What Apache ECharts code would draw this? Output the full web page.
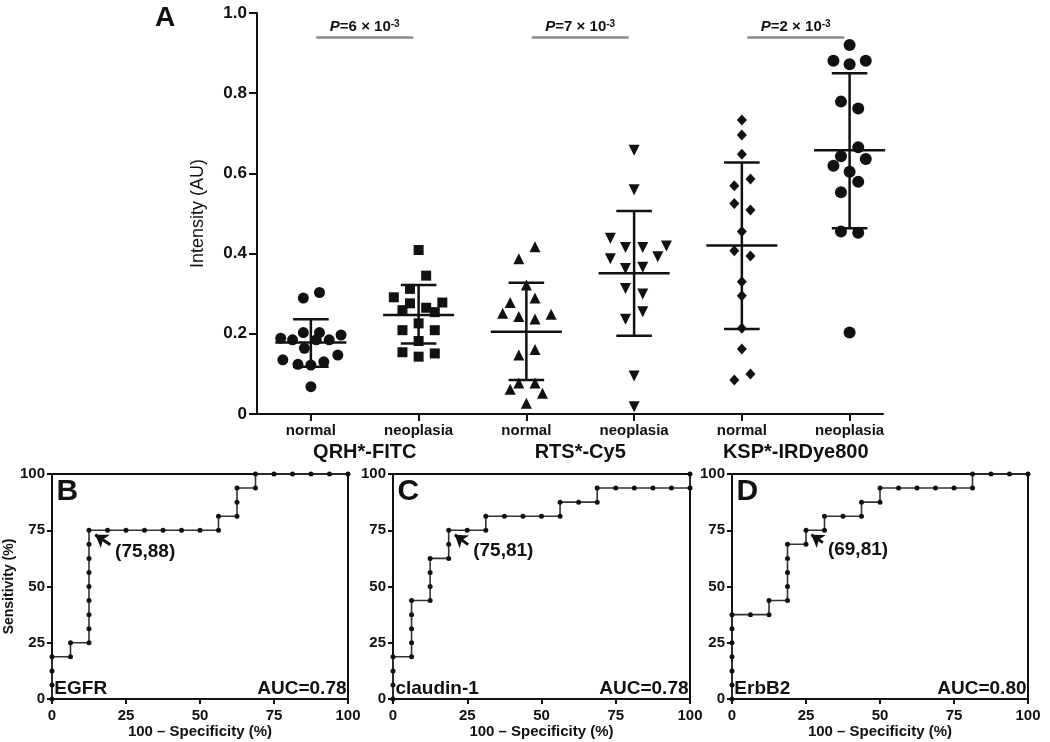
<!DOCTYPE html>
<html><head><meta charset="utf-8">
<script src="https://cdn.jsdelivr.net/npm/echarts@6/dist/echarts.min.js"></script>
<style>html,body{margin:0;padding:0;background:#fff}#c{width:1050px;height:742px}</style>
</head><body><div id="c"></div>
<script>
// ---------- DATA ----------
const conditionLabels = ['normal','neoplasia','normal','neoplasia','normal','neoplasia'];
const groupNames = ['QRH*-FITC','RTS*-Cy5','KSP*-IRDye800'];
const pExponentBase = ['6','7','2'];  // P = n × 10^-3

const qrhNormal      = [0.289,0.303,0.189,0.185,0.203,0.203,0.185,0.185,0.197,0.164,0.135,0.124,0.122,0.130,0.147,0.068];
const qrhNormalJit   = [-0.07,0.08,-0.28,-0.17,-0.07,0.08,0.05,0.17,0.28,-0.06,-0.26,-0.12,0,0.12,0.25,0];
const qrhNeo         = [0.409,0.345,0.312,0.291,0.278,0.276,0.259,0.265,0.254,0.226,0.209,0.209,0.182,0.154,0.143,0.151];
const qrhNeoJit      = [0,0.07,-0.08,-0.23,0.22,-0.08,-0.15,0.07,0.15,0,-0.15,0.15,0,-0.15,0,0.15];
const rtsNormal      = [0.417,0.387,0.322,0.278,0.289,0.251,0.243,0.237,0.249,0.147,0.161,0.077,0.077,0.062,0.052,0.027];
const rtsNormalJit   = [0.08,-0.07,0,-0.15,0.08,-0.22,-0.07,0.08,0.23,-0.07,0.08,-0.07,0.08,-0.15,0.15,0];
const rtsNeo         = [0.658,0.559,0.438,0.415,0.415,0.419,0.387,0.392,0.363,0.366,0.313,0.299,0.255,0.236,0.095,0.018];
const rtsNeoJit      = [0,0,-0.22,-0.08,0.08,0.3,-0.22,0.22,-0.08,0.08,-0.08,0.08,0.08,-0.08,0,0];
const kspNormal      = [0.733,0.696,0.648,0.586,0.569,0.525,0.509,0.455,0.407,0.394,0.330,0.295,0.214,0.162,0.085,0.100];
const kspNormalJit   = [0,0,0,0.08,-0.07,-0.07,0.08,0,-0.07,0.08,0,0,0,0,-0.07,0.08];
const kspNeo         = [0.920,0.881,0.872,0.881,0.779,0.762,0.665,0.643,0.636,0.619,0.604,0.579,0.553,0.455,0.452,0.203];
const kspNeoJit      = [0,-0.15,0,0.15,-0.08,0.08,0.08,-0.08,0.15,-0.15,0,0.08,-0.08,-0.08,0.08,0];

const groupMeans = [0.178,0.247,0.205,0.351,0.420,0.658];
const groupSdHigh = [0.236,0.322,0.327,0.506,0.627,0.850];
const groupSdLow  = [0.118,0.176,0.085,0.195,0.212,0.463];

const rocEGFR = [[0,0],[0,6.25],[0,12.5],[0,18.75],[6.25,18.75],[6.25,25],[12.5,25],[12.5,31.25],[12.5,37.5],[12.5,43.75],[12.5,50],[12.5,56.25],[12.5,62.5],[12.5,68.75],[12.5,75],[18.75,75],[25,75],[31.25,75],[37.5,75],[43.75,75],[50,75],[56.25,75],[56.25,81.25],[62.5,81.25],[62.5,87.5],[62.5,93.75],[68.75,93.75],[68.75,100],[75,100],[81.25,100],[87.5,100],[93.75,100],[100,100]];
const rocClaudin = [[0,0],[0,6.25],[0,12.5],[0,18.75],[6.25,18.75],[6.25,25],[6.25,31.25],[6.25,37.5],[6.25,43.75],[12.5,43.75],[12.5,50],[12.5,56.25],[12.5,62.5],[18.75,62.5],[18.75,68.75],[18.75,75],[25,75],[31.25,75],[31.25,81.25],[37.5,81.25],[43.75,81.25],[50,81.25],[56.25,81.25],[56.25,87.5],[62.5,87.5],[68.75,87.5],[68.75,93.75],[75,93.75],[81.25,93.75],[87.5,93.75],[93.75,93.75],[100,93.75],[100,100]];
const rocErbB2 = [[0,0],[0,6.25],[0,12.5],[0,18.75],[0,25],[0,31.25],[0,37.5],[6.25,37.5],[12.5,37.5],[12.5,43.75],[18.75,43.75],[18.75,50],[18.75,56.25],[18.75,62.5],[18.75,68.75],[25,68.75],[25,75],[31.25,75],[31.25,81.25],[37.5,81.25],[43.75,81.25],[43.75,87.5],[50,87.5],[50,93.75],[56.25,93.75],[62.5,93.75],[68.75,93.75],[75,93.75],[81.25,93.75],[81.25,100],[87.5,100],[93.75,100],[100,100]];
const rocNames = ['EGFR','claudin-1','ErbB2'];
const rocAUC = ['0.78','0.78','0.80'];
const rocCutLabels = ['(75,88)','(75,81)','(69,81)'];
const rocLetters = ['B','C','D'];

// ---------- BUILD ----------
const FF = "'Liberation Sans', Arial, Helvetica, sans-serif";
const INK = '#111';
const groupVals = [qrhNormal,qrhNeo,rtsNormal,rtsNeo,kspNormal,kspNeo];
const groupJit = [qrhNormalJit,qrhNeoJit,rtsNormalJit,rtsNeoJit,kspNormalJit,kspNeoJit];
const symbols = ['circle','rect','triangle','triangle','diamond','circle'];
const symRot = [0,0,0,180,0,0];
const symSize = [11,10,11,11,[10,11],12];

const series = [];
groupVals.forEach((vals,i)=>{
  series.push({
    type:'scatter', xAxisIndex:0, yAxisIndex:0,
    symbol:symbols[i], symbolRotate:symRot[i], symbolSize:symSize[i],
    itemStyle:{color:INK, opacity:1}, silent:true, z:2,
    data: vals.map((v,k)=>[i+1+groupJit[i][k], v])
  });
});
// mean ± SD bars
series.push({
  type:'custom', xAxisIndex:0, yAxisIndex:0, z:5, silent:true,
  data: groupMeans.map((m,i)=>[i+1,m,groupSdHigh[i],groupSdLow[i]]),
  renderItem(params, api){
    const x=api.value(0), m=api.value(1), hi=api.value(2), lo=api.value(3);
    const st={stroke:INK, lineWidth:2.5};
    const mk=(a,b,c,d)=>{const p=api.coord([a,b]), q=api.coord([c,d]);
      return {type:'line', shape:{x1:p[0],y1:p[1],x2:q[0],y2:q[1]}, style:st};};
    return {type:'group', children:[
      mk(x-0.33,m,x+0.33,m), mk(x,lo,x,hi),
      mk(x-0.165,hi,x+0.165,hi), mk(x-0.165,lo,x+0.165,lo)
    ]};
  }
});
// P-value bars
series.push({
  type:'custom', xAxisIndex:0, yAxisIndex:0, z:5, silent:true, clip:false,
  data: pExponentBase.map((p,k)=>[2*k+1.05, 2*k+1.95, 0.939, k]),
  renderItem(params, api){
    const a=api.coord([api.value(0),api.value(2)]), b=api.coord([api.value(1),api.value(2)]);
    const k=api.value(3);
    return {type:'group', children:[
      {type:'line', shape:{x1:a[0],y1:a[1],x2:b[0],y2:b[1]}, style:{stroke:'#8a8a8a', lineWidth:2.5}},
      {type:'text', x:(a[0]+b[0])/2, y:a[1]-11, style:{
        text:'{i|P}{n|=' + pExponentBase[k] + ' × 10}{s|-3}',
        align:'center', verticalAlign:'middle', fill:INK,
        rich:{
          i:{fontStyle:'italic', fontWeight:'bold', fontSize:15, fontFamily:FF, fill:INK},
          n:{fontWeight:'bold', fontSize:15, fontFamily:FF, fill:INK},
          s:{fontWeight:'bold', fontSize:10, fontFamily:FF, fill:INK, verticalAlign:'top'}
        }}}
    ]};
  }
});

// ROC panels
const rocData = [rocEGFR, rocClaudin, rocErbB2];
const arrowFrom = [[19.7,68.6],[25.3,68.6],[30.7,69.5]];
const arrowTo = [[14.6,73],[20.8,73],[26.8,73]];
const cutAt = [[21.3,65.5],[27,66],[32.4,66.4]];
rocData.forEach((d,i)=>{
  series.push({
    type:'line', xAxisIndex:2+i, yAxisIndex:1+i, data:d, clip:false, silent:true,
    symbol:'circle', symbolSize:5, showSymbol:true,
    itemStyle:{color:INK, opacity:1}, lineStyle:{color:'#333', width:1.6}, z:3,
    markLine:{silent:true, symbol:['none','arrow'], symbolSize:[12,12],
      lineStyle:{color:INK, width:3, type:'solid'}, label:{show:false},
      data:[[{coord:arrowFrom[i]},{coord:arrowTo[i]}]]}
  });
  series.push({
    type:'custom', xAxisIndex:2+i, yAxisIndex:1+i, silent:true, clip:false, z:6,
    data:[[0]],
    renderItem(params, api){
      const t=(x,y,text,align,va,size)=>{const p=api.coord([x,y]);
        return {type:'text', x:p[0], y:p[1], style:{text, align, verticalAlign:va,
          fill:INK, font:'bold '+size+'px '+FF}};};
      return {type:'group', children:[
        t(1.5,99,rocLetters[i],'left','top',30),
        t(0.8,0.5,rocNames[i],'left','bottom',19),
        t(99.5,0.5,'AUC='+rocAUC[i],'right','bottom',19),
        t(cutAt[i][0],cutAt[i][1],rocCutLabels[i],'left','middle',19)
      ]};
    }
  });
});

const rocGrids = [{left:52,width:296},{left:393,width:297},{left:732,width:296}];
const grid = [{left:257, top:13, width:626, height:401}];
rocGrids.forEach(g=>grid.push({left:g.left, width:g.width, top:474, height:225,
  show:true, borderColor:INK, borderWidth:2, backgroundColor:'transparent'}));

const xAxis = [
  {type:'value', gridIndex:0, min:0.5, max:6.31, position:'bottom',
    axisLine:{show:true, onZero:false, lineStyle:{color:INK, width:2}},
    axisTick:{show:true, length:7, customValues:[1,2,3,4,5,6], lineStyle:{color:INK, width:2}},
    axisLabel:{customValues:[1,2,3,4,5,6], formatter:v=>conditionLabels[Math.round(v)-1],
      fontSize:15, fontWeight:'bold', color:INK, fontFamily:FF, margin:9},
    splitLine:{show:false}},
  {type:'value', gridIndex:0, min:0.5, max:6.31, position:'bottom',
    axisLine:{show:false}, axisTick:{show:false},
    axisLabel:{customValues:[1.5,3.5,5.5], formatter:v=>groupNames[Math.round((v-1.5)/2)],
      fontSize:20, fontWeight:'bold', color:INK, fontFamily:FF, margin:28},
    splitLine:{show:false}}
];
const yAxis = [
  {type:'value', gridIndex:0, min:0, max:1, interval:0.2,
    axisLine:{show:true, lineStyle:{color:INK, width:2}},
    axisTick:{show:true, length:8, lineStyle:{color:INK, width:2}},
    axisLabel:{formatter:v=>v===0?'0':v.toFixed(1), fontSize:17, fontWeight:'bold', color:INK, fontFamily:FF, margin:10},
    splitLine:{show:false},
    name:'Intensity (AU)', nameLocation:'middle', nameGap:50,
    nameTextStyle:{fontSize:18, color:INK, fontFamily:FF}}
];
rocGrids.forEach((g,i)=>{
  xAxis.push({type:'value', gridIndex:1+i, min:0, max:100, interval:25,
    axisLine:{show:true, onZero:false, lineStyle:{color:INK, width:2}},
    axisTick:{show:true, length:5, lineStyle:{color:INK, width:2}},
    axisLabel:{fontSize:15, fontWeight:'bold', color:INK, fontFamily:FF, margin:9},
    splitLine:{show:false},
    name:'100 – Specificity (%)', nameLocation:'middle', nameGap:24,
    nameTextStyle:{fontSize:15, fontWeight:'bold', color:INK, fontFamily:FF}});
  yAxis.push({type:'value', gridIndex:1+i, min:0, max:100, interval:25,
    axisLine:{show:true, onZero:false, lineStyle:{color:INK, width:2}},
    axisTick:{show:true, length:5, lineStyle:{color:INK, width:2}},
    axisLabel:{fontSize:15, fontWeight:'bold', color:INK, fontFamily:FF, margin:7},
    splitLine:{show:false},
    name: i===0 ? 'Sensitivity (%)' : '', nameLocation:'middle', nameGap:33,
    nameTextStyle:{fontSize:14, fontWeight:'bold', color:INK, fontFamily:FF}});
});

const chart = echarts.init(document.getElementById('c'), null, {renderer:'canvas'});
chart.setOption({
  animation:false, backgroundColor:'#fff',
  textStyle:{fontFamily:FF},
  grid, xAxis, yAxis, series,
  graphic:[{type:'text', left:155, top:4, style:{text:'A', font:'bold 28px '+FF, fill:INK}}]
});
</script></body></html>
